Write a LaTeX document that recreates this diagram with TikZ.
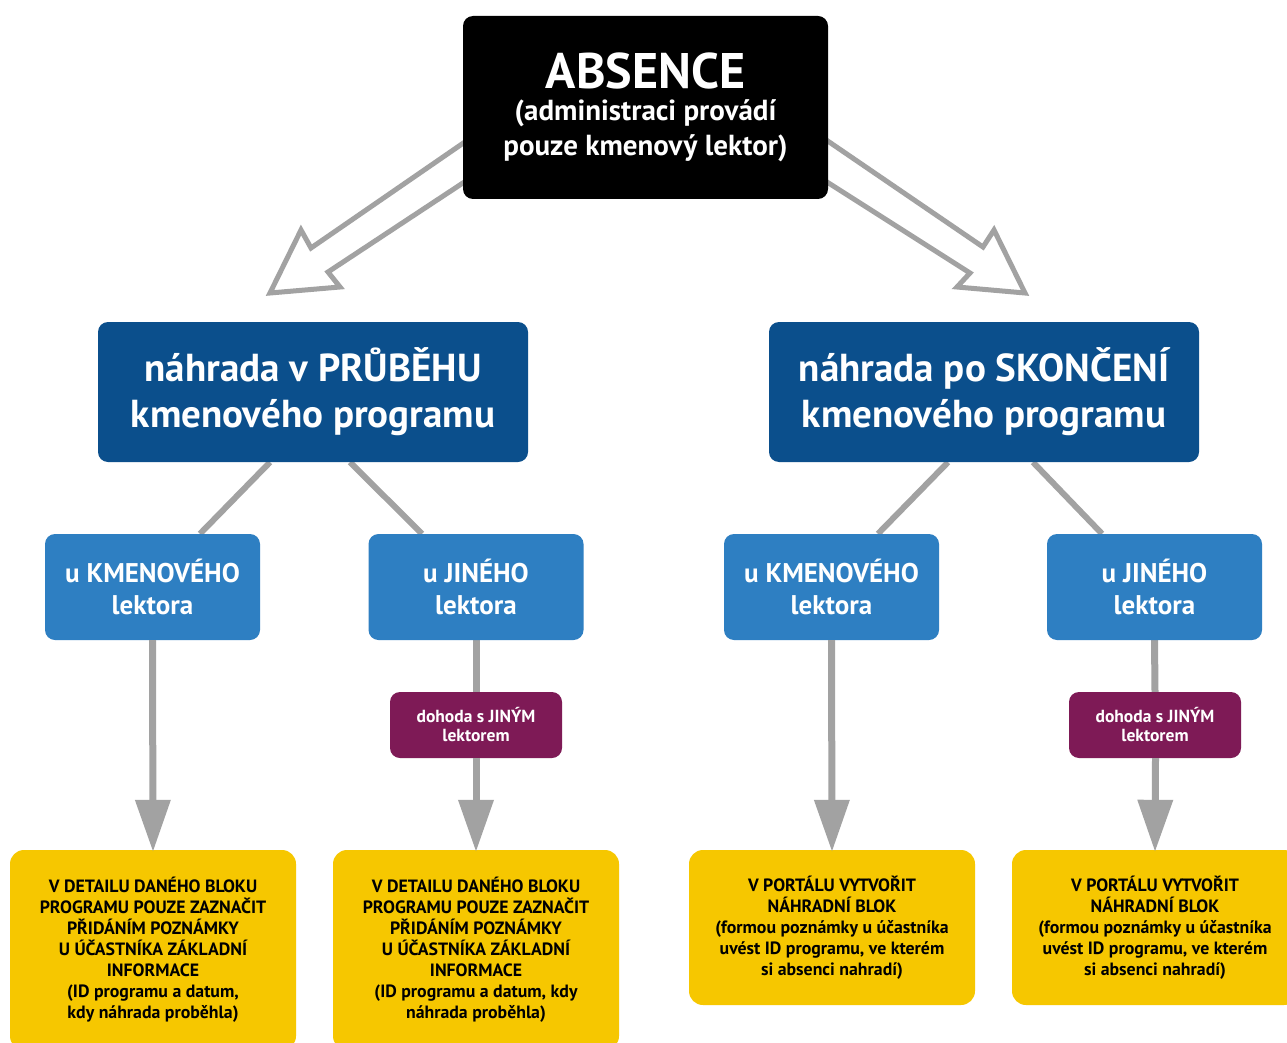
\documentclass[tikz,border=0pt]{standalone}
\usepackage{fontspec}
\setmainfont{PT Sans}
\usetikzlibrary{arrows.meta}
\pgfdeclarelayer{background}
\pgfsetlayers{background,main}
\definecolor{dkblue}{HTML}{0B4F8C}
\definecolor{mdblue}{HTML}{2E7FC2}
\definecolor{purp}{HTML}{7E1A56}
\definecolor{yel}{HTML}{F6C700}
\definecolor{gry}{HTML}{A2A2A2}
\tikzset{
  box/.style={rounded corners=10pt, inner sep=0pt, align=center, font=\bfseries},
  topbox/.style={box, fill=black, text=white, minimum width=365pt, minimum height=183pt, font=\bfseries\fontsize{29}{35}\selectfont},
  dkbox/.style={box, fill=dkblue, text=white, minimum width=430pt, minimum height=140pt, font=\bfseries\fontsize{39}{46}\selectfont},
  mdbox/.style={box, fill=mdblue, text=white, minimum width=215pt, minimum height=106pt, font=\bfseries\fontsize{27}{32}\selectfont},
  pbox/.style={box, fill=purp, text=white, minimum width=172pt, minimum height=66pt, font=\bfseries\fontsize{17.5}{19}\selectfont},
  ybox/.style={box, rounded corners=14pt, fill=yel, text=black, minimum width=286pt, font=\bfseries\fontsize{17.8}{21}\selectfont},
  conn/.style={draw=gry, line width=6pt},
  varrow/.style={draw=gry, line width=7pt, -{Triangle[length=52pt,width=34pt]}},
  hollow/.style={draw=gry, line width=5pt, fill=white, line join=miter},
}
\begin{document}
\begin{tikzpicture}[x=1pt,y=-1pt]
\useasboundingbox (0,0) rectangle (1287,1043);

\node[topbox] (abs) at (645.5,107.5) {\fontsize{50}{56}\selectfont ABSENCE\\[-3pt]
  (administraci provádí\\ pouze kmenový lektor)};

\node[dkbox] (dkL) at (313,392) {náhrada v PRŮBĚHU\\kmenového programu};
\node[dkbox] (dkR) at (984,392) {náhrada po SKONČENÍ\\kmenového programu};

\node[mdbox] (mA) at (152.5,587) {u KMENOVÉHO\\lektora};
\node[mdbox] (mB) at (476,587) {u JINÉHO\\lektora};
\node[mdbox] (mC) at (831.5,587) {u KMENOVÉHO\\lektora};
\node[mdbox] (mD) at (1154.5,587) {u JINÉHO\\lektora};

\node[pbox] (pB) at (476,725) {dohoda s JINÝM\\lektorem};
\node[pbox] (pD) at (1155,725) {dohoda s JINÝM\\lektorem};

\node[ybox, minimum height=200pt] (yA) at (153,950) {V DETAILU DANÉHO BLOKU\\PROGRAMU POUZE ZAZNAČIT\\PŘIDÁNÍM POZNÁMKY\\U ÚČASTNÍKA ZÁKLADNÍ\\INFORMACE\\(ID programu a datum,\\kdy náhrada proběhla)};
\node[ybox, minimum height=200pt] (yB) at (476,950) {V DETAILU DANÉHO BLOKU\\PROGRAMU POUZE ZAZNAČIT\\PŘIDÁNÍM POZNÁMKY\\U ÚČASTNÍKA ZÁKLADNÍ\\INFORMACE\\(ID programu a datum, kdy\\náhrada proběhla)};
\node[ybox, minimum height=155pt] (yC) at (832,927.5) {V PORTÁLU VYTVOŘIT\\NÁHRADNÍ BLOK\\(formou poznámky u účastníka\\uvést ID programu, ve kterém\\si absenci nahradí)};
\node[ybox, minimum height=155pt] (yD) at (1155,927.5) {V PORTÁLU VYTVOŘIT\\NÁHRADNÍ BLOK\\(formou poznámky u účastníka\\uvést ID programu, ve kterém\\si absenci nahradí)};

\begin{pgfonlayer}{background}
  \fill[white] (0,0) rectangle (1287,1043);
  % hollow arrows from ABSENCE
  \draw[hollow] (475,135) -- (311,248) -- (301,230) -- (270,293) -- (340,287) -- (328,272) -- (475,175);
  \draw[hollow] (816,133) -- (983,247) -- (994,230) -- (1025,293) -- (957,287) -- (970,273) -- (816,175);
  % connectors
  \draw[conn] ([xshift=-43pt]dkL.south) -- ([xshift=47.5pt]mA.north);
  \draw[conn] ([xshift=37pt]dkL.south) -- ([xshift=-54pt]mB.north);
  \draw[conn] ([xshift=-36pt]dkR.south) -- ([xshift=46.5pt]mC.north);
  \draw[conn] ([xshift=49pt]dkR.south) -- ([xshift=-52.5pt]mD.north);
  \draw[draw=gry, line width=7pt] (mB.south) -- (pB.north);
  \draw[draw=gry, line width=7pt] (mD.south) -- (pD.north);
\end{pgfonlayer}
\draw[varrow] (mA.south) -- ([yshift=-2pt]yA.north);
\draw[varrow] (pB.south) -- ([yshift=-2pt]yB.north);
\draw[varrow] (mC.south) -- ([yshift=-2pt]yC.north);
\draw[varrow] ([xshift=0.5pt]pD.south) -- ([yshift=-2pt]yD.north);
\end{tikzpicture}
\end{document}
